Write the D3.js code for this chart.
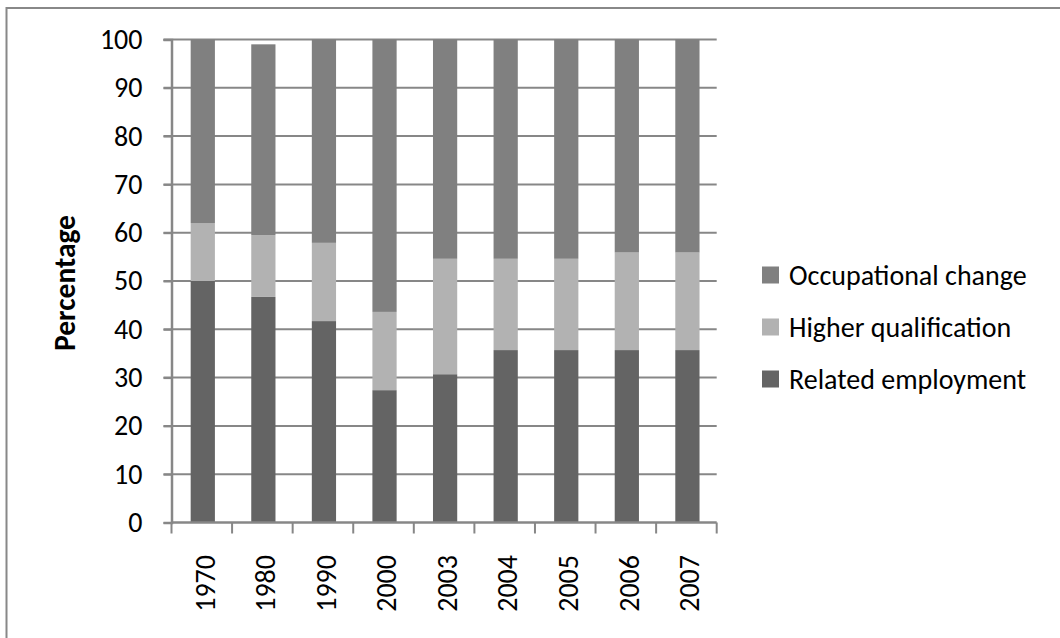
<!DOCTYPE html>
<html>
<head>
<meta charset="utf-8">
<script src="https://cdn.jsdelivr.net/npm/d3@7/dist/d3.min.js"></script>
<style>
  html, body { margin: 0; padding: 0; background: #fff; }
  svg { display: block; }
  text { font-family: Carlito, Calibri, Lato, "Open Sans", sans-serif; fill: #000; }
</style>
</head>
<body>
<svg id="chart" width="1060" height="638"></svg>
<script>
const years = ["1970", "1980", "1990", "2000", "2003", "2004", "2005", "2006", "2007"];
const related = [50, 46.7, 41.7, 27.4, 30.7, 35.7, 35.7, 35.7, 35.7];
const higher = [12, 12.8, 16.2, 16.2, 23.9, 18.9, 18.9, 20.2, 20.2];
const occupational = [38, 39.5, 42.1, 56.4, 45.4, 45.4, 45.4, 44.1, 44.1];
const seriesNames = ["Related employment", "Higher qualification", "Occupational change"];
const yTicks = [0, 10, 20, 30, 40, 50, 60, 70, 80, 90, 100];

const colors = {
  "Related employment": "#646464",
  "Higher qualification": "#b2b2b2",
  "Occupational change": "#808080"
};

const svg = d3.select("#chart");
const plotLeft = 171.5, plotRight = 716.7, plotTop = 39.5, plotBottom = 522.5;
const fontSize = 28;

// outer border
svg.append("rect")
  .attr("x", 6.5).attr("y", 8).attr("width", 1100).attr("height", 700)
  .attr("fill", "none").attr("stroke", "#888").attr("stroke-width", 2);

const x = d3.scaleBand().domain(years).range([plotLeft, plotRight]).paddingInner(0.6).paddingOuter(0.3);
const y = d3.scaleLinear().domain([0, 100]).range([plotBottom, plotTop]);

const table = years.map((yr, i) => ({
  year: yr,
  "Related employment": related[i],
  "Higher qualification": higher[i],
  "Occupational change": occupational[i]
}));
const stacked = d3.stack().keys(seriesNames)(table);

// gridlines
svg.append("g").selectAll("line")
  .data(yTicks.filter(t => t > 0))
  .join("line")
  .attr("x1", plotLeft - 8).attr("x2", plotRight)
  .attr("y1", d => y(d)).attr("y2", d => y(d))
  .attr("stroke", "#878787").attr("stroke-width", 2);

// bars
svg.append("g").selectAll("g")
  .data(stacked)
  .join("g")
  .attr("fill", d => colors[d.key])
  .selectAll("rect")
  .data(d => d)
  .join("rect")
  .attr("x", d => x(d.data.year) + 1)
  .attr("width", x.bandwidth())
  .attr("y", d => y(d[1]))
  .attr("height", d => y(d[0]) - y(d[1]));

// y axis
const yAxis = d3.axisLeft(y).tickValues(yTicks).tickSize(8).tickPadding(21);
const yg = svg.append("g").attr("transform", `translate(${plotLeft},0)`).call(yAxis);
yg.select(".domain").attr("stroke", "#878787").attr("stroke-width", 2.5);
yg.selectAll(".tick line").attr("stroke", "#878787").attr("stroke-width", 2);
yg.selectAll(".tick text").style("font-size", fontSize + "px").attr("fill", "#000")
  .style("font-family", "Carlito, Calibri, Lato, sans-serif");

// x axis line
svg.append("line")
  .attr("x1", plotLeft).attr("x2", plotRight).attr("y1", plotBottom).attr("y2", plotBottom)
  .attr("stroke", "#878787").attr("stroke-width", 2.5);

// x axis ticks at category boundaries
const bx = d3.scaleLinear().domain([0, years.length]).range([plotLeft, plotRight]);
svg.append("g").selectAll("line")
  .data(d3.range(years.length + 1))
  .join("line")
  .attr("x1", i => bx(i))
  .attr("x2", i => bx(i))
  .attr("y1", plotBottom).attr("y2", plotBottom + 11)
  .attr("stroke", "#878787").attr("stroke-width", 2);

// x labels
svg.append("g").selectAll("text")
  .data(years)
  .join("text")
  .attr("transform", d => `translate(${x(d) + x.bandwidth() / 2 + 3},555) rotate(-90)`)
  .attr("text-anchor", "end")
  .attr("dy", "0.35em")
  .style("font-size", fontSize + "px")
  .text(d => d);

// y axis title
svg.append("text")
  .attr("transform", `translate(65,283) rotate(-90)`)
  .attr("text-anchor", "middle")
  .attr("dy", "0.35em")
  .style("font-size", "29.5px")
  .style("font-weight", "bold")
  .text("Percentage");

// legend (reverse order)
const legendItems = seriesNames.slice().reverse();
const lg = svg.append("g").selectAll("g")
  .data(legendItems)
  .join("g")
  .attr("transform", (d, i) => `translate(762,${275 + i * 52})`);
lg.append("rect")
  .attr("x", 0).attr("y", -8.5).attr("width", 17).attr("height", 17)
  .attr("fill", d => colors[d]);
lg.append("text")
  .attr("x", 27).attr("y", 0).attr("dy", "0.35em")
  .style("font-size", fontSize + "px")
  .text(d => d);
</script>
</body>
</html>
